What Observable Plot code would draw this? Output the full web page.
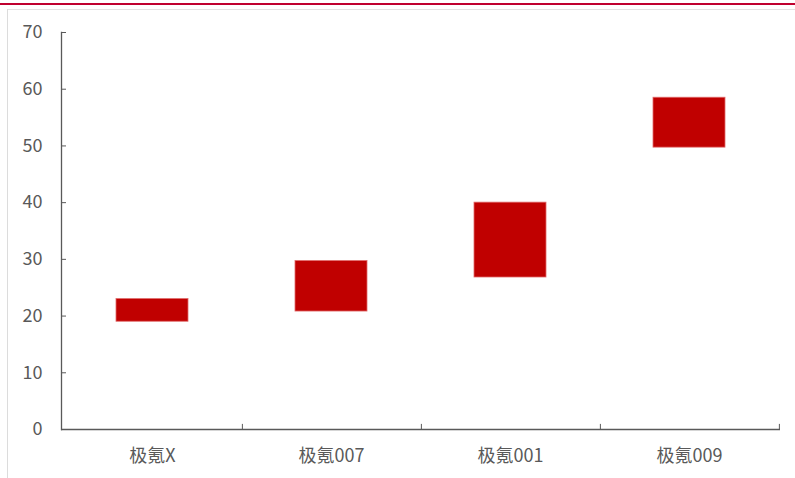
<!DOCTYPE html>
<html>
<head>
<meta charset="utf-8">
<script src="https://cdn.jsdelivr.net/npm/d3@7"></script>
<script src="https://cdn.jsdelivr.net/npm/@observablehq/plot@0.6"></script>
<style>
  html, body { margin: 0; padding: 0; background: #fff; }
  #wrap { position: relative; width: 795px; height: 478px; overflow: hidden; font-family: "Noto Sans CJK SC", "Noto Sans", sans-serif; }
  #redline { position: absolute; left: 0; top: 3px; width: 795px; height: 2px; background: #c0002f; }
  #grayline { position: absolute; left: 8px; top: 9px; width: 787px; height: 1px; background: #e3e3e3; }
  #leftline { position: absolute; left: 7px; top: 9px; width: 1px; height: 469px; background: #dcdcdc; }
  #chart { position: absolute; left: 0; top: 0; }
</style>
</head>
<body>
<div id="wrap">
  <div id="chart"></div>
  <div id="redline"></div>
  <div id="grayline"></div>
  <div id="leftline"></div>
</div>
<script>
const categories = ["极氪X", "极氪007", "极氪001", "极氪009"];
const lowValues  = [19, 20.8, 26.8, 49.7];
const highValues = [23, 29.7, 40, 58.5];
const yTicks = [0, 10, 20, 30, 40, 50, 60, 70];

const data = categories.map((c, i) => ({cat: c, lo: lowValues[i], hi: highValues[i]}));

const W = 795, H = 478;
const mL = 61, mR = 15, mT = 32, mB = 49;
const step = (W - mL - mR) / categories.length;

const chart = Plot.plot({
  width: W,
  height: H,
  marginLeft: mL,
  marginRight: mR,
  marginTop: mT,
  marginBottom: mB,
  style: {fontFamily: '"Noto Sans CJK SC", "Noto Sans", sans-serif', fontSize: "18px", color: "#595959", background: "transparent"},
  x: {domain: categories, paddingInner: 0.6, paddingOuter: 0.3, label: null},
  y: {domain: [0, 70], label: null},
  marks: [
    Plot.barY(data, {x: "cat", y1: "lo", y2: "hi", fill: "#c00000", stroke: "#e06a6a", strokeWidth: 0.8}),
    Plot.axisY({ticks: yTicks, tickSize: -5, tickPadding: 24, stroke: "#595959", fill: "#595959", label: null, fontSize: 18}),
    Plot.axisX({tickSize: 0, tickPadding: 20, fill: "#595959", label: null, fontSize: 18}),
    Plot.ruleX(categories, {x: d => d, y1: 0, y2: 0.9, dx: step / 2, stroke: "#595959", strokeWidth: 1}),
    Plot.ruleY([0], {stroke: "#595959", strokeWidth: 1.3}),
    Plot.frame({anchor: "left", stroke: "#595959", strokeWidth: 1.3})
  ]
});
document.getElementById("chart").appendChild(chart);
</script>
</body>
</html>
